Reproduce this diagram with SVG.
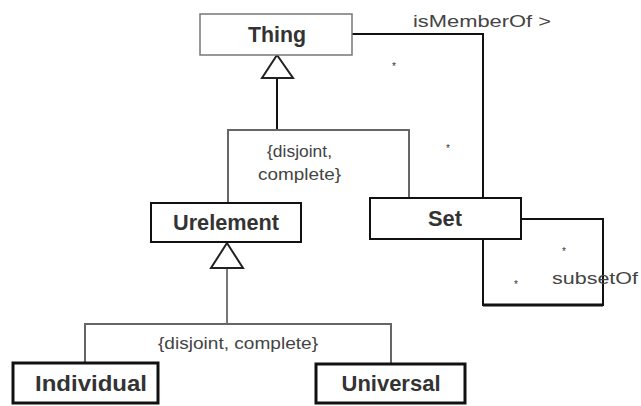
<svg xmlns="http://www.w3.org/2000/svg" width="641" height="406" viewBox="0 0 641 406">
<style>
.cls{font-family:"Liberation Sans",Arial,sans-serif;font-weight:bold;font-size:22px;fill:#333;text-anchor:middle}
.lbl{font-family:"Liberation Sans",Arial,sans-serif;font-size:17px;fill:#444}
.mult{font-family:"Liberation Sans",Arial,sans-serif;font-size:10px;fill:#333;text-anchor:middle}
.gen{fill:none;stroke:#666;stroke-width:2}
.assoc{fill:none;stroke:#111;stroke-width:2}
.tri{fill:#fff;stroke:#222;stroke-width:2}
</style>
<rect width="641" height="406" fill="#fff"/>
<g id="connectors">
  <line x1="277" y1="78" x2="277" y2="130" stroke="#111" stroke-width="2"/>
  <polyline class="gen" points="228,203 228,130 409,130 409,198"/>
  <polygon class="tri" points="277,55 262,78 293,78"/>
  <text class="lbl" x="267" y="157" font-size="16" textLength="65" lengthAdjust="spacingAndGlyphs">{disjoint,</text>
  <text class="lbl" x="258" y="180" font-size="16" textLength="83" lengthAdjust="spacingAndGlyphs">complete}</text>
  <line x1="227" y1="268" x2="227" y2="324" stroke="#777" stroke-width="2"/>
  <polyline class="gen" points="85,362 85,324 391,324 391,363"/>
  <polygon class="tri" points="227,243 211,268 243,268"/>
  <text class="lbl" x="158" y="349" textLength="160" lengthAdjust="spacingAndGlyphs">{disjoint, complete}</text>
  <polyline class="assoc" points="352,34 483,34 483,198"/>
  <text class="lbl" x="413" y="27" font-size="19" textLength="138" lengthAdjust="spacingAndGlyphs">isMemberOf &gt;</text>
  <text class="mult" x="394" y="70">*</text>
  <text class="mult" x="448" y="152">*</text>
  <polyline class="assoc" points="521,219 603,219 603,305 483,305 483,239"/>
  <line x1="483" y1="305" x2="603" y2="305" stroke="#111" stroke-width="3"/>
  <text class="lbl" x="552" y="284" font-size="20" textLength="86" lengthAdjust="spacingAndGlyphs">subsetOf</text>
  <text class="mult" x="564" y="255">*</text>
  <text class="mult" x="516" y="288">*</text>
</g>
<g id="Thing">
  <rect x="200" y="14" width="152" height="41" fill="#fff" stroke="#777" stroke-width="1.5"/>
  <text class="cls" x="277" y="42" textLength="58" lengthAdjust="spacingAndGlyphs">Thing</text>
</g>
<g id="Urelement">
  <rect x="151" y="203" width="150" height="39" fill="#fff" stroke="#111" stroke-width="2"/>
  <text class="cls" x="226" y="230" textLength="106" lengthAdjust="spacingAndGlyphs">Urelement</text>
</g>
<g id="Set">
  <rect x="370" y="198" width="151" height="41" fill="#fff" stroke="#111" stroke-width="2"/>
  <text class="cls" x="445" y="226" textLength="34" lengthAdjust="spacingAndGlyphs">Set</text>
</g>
<g id="Individual">
  <rect x="13" y="363" width="145" height="40" fill="#fff" stroke="#111" stroke-width="3"/>
  <text class="cls" x="91" y="391" textLength="112" lengthAdjust="spacingAndGlyphs">Individual</text>
</g>
<g id="Universal">
  <rect x="316" y="364" width="149" height="39" fill="#fff" stroke="#111" stroke-width="3"/>
  <text class="cls" x="391" y="391" textLength="99" lengthAdjust="spacingAndGlyphs">Universal</text>
</g>
</svg>
